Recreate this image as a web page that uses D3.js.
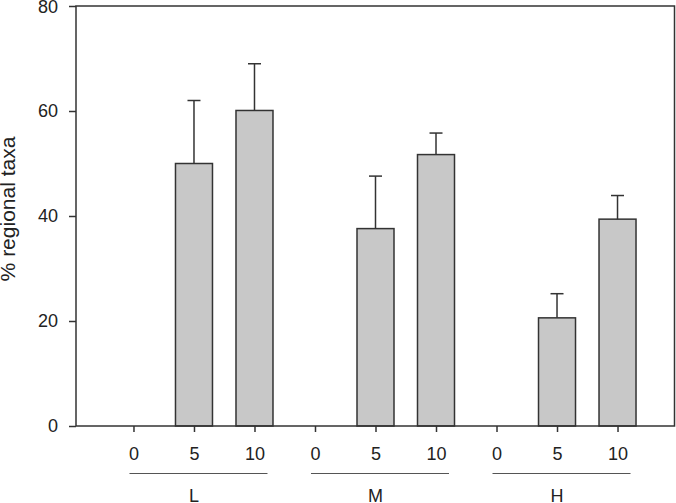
<!DOCTYPE html>
<html><head><meta charset="utf-8">
<script src="https://cdn.jsdelivr.net/npm/d3@7"></script>
<style>body{margin:0;background:#fff}svg{display:block}text{font-family:"Liberation Sans",Arial,sans-serif;fill:#222}</style>
</head><body>
<script>
const groups = ["L", "M", "H"];
const doses = ["0", "5", "10"];
const values = [0, 50.0, 60.1, 0, 37.6, 51.7, 0, 20.6, 39.4];
const errors = [0, 12.0, 8.9, 0, 10.0, 4.1, 0, 4.6, 4.5];
const yTicks = [0, 20, 40, 60, 80];
const yTitle = "% regional taxa";

const W = 676, H = 503;
const m = {left: 76, right: 1, top: 6, bottom: 77};
const svg = d3.select("body").append("svg").attr("width", W).attr("height", H);

const cats = [];
groups.forEach((g, gi) => doses.forEach((d, di) => cats.push({id: gi * 3 + di, group: g, dose: d, v: values[gi * 3 + di], e: errors[gi * 3 + di]})));

const x = d3.scalePoint().domain(cats.map(c => c.id)).range([m.left, W - m.right]).padding(0.95);
const y = d3.scaleLinear().domain([0, 80]).range([H - m.bottom, m.top]);
const bw = 37;
const stroke = "#333";

// bars
svg.append("g").selectAll("rect").data(cats.filter(c => c.v > 0)).join("rect")
  .attr("x", c => x(c.id) - bw / 2).attr("y", c => y(c.v))
  .attr("width", bw).attr("height", c => y(0) - y(c.v))
  .attr("fill", "#c8c8c8").attr("stroke", stroke).attr("stroke-width", 1.5);

// error bars
const eg = svg.append("g").attr("stroke", stroke).attr("stroke-width", 1.5);
cats.filter(c => c.v > 0).forEach(c => {
  eg.append("line").attr("x1", x(c.id)).attr("x2", x(c.id)).attr("y1", y(c.v)).attr("y2", y(c.v + c.e));
  eg.append("line").attr("x1", x(c.id) - 6.5).attr("x2", x(c.id) + 6.5).attr("y1", y(c.v + c.e)).attr("y2", y(c.v + c.e));
});

// frame
svg.append("rect").attr("x", m.left).attr("y", m.top).attr("width", W - m.right - m.left - 0.5).attr("height", y(0) - m.top)
  .attr("fill", "none").attr("stroke", stroke).attr("stroke-width", 1.5);

// y axis
const ya = svg.append("g").attr("transform", `translate(${m.left},0)`)
  .call(d3.axisLeft(y).tickValues(yTicks).tickSize(7).tickPadding(11));
ya.select(".domain").remove();
ya.selectAll("line").attr("stroke", stroke).attr("stroke-width", 1.5);
ya.selectAll("text").style("font-size", "18px").attr("fill", "#222");
ya.selectAll("text").filter(d => d === 80).attr("dy", "0.36em");

// x axis
const xa = svg.append("g").attr("transform", `translate(0,${y(0)})`)
  .call(d3.axisBottom(x).tickFormat(i => cats[i].dose).tickSize(6).tickPadding(15));
xa.select(".domain").remove();
xa.selectAll("line").attr("stroke", stroke).attr("stroke-width", 1.5);
xa.selectAll("text").style("font-size", "18px").attr("fill", "#222");

// group lines and labels
groups.forEach((g, gi) => {
  const first = gi * 3, last = gi * 3 + 2;
  svg.append("line").attr("x1", x(first) - 4).attr("x2", x(last) + 13)
    .attr("y1", 473.5).attr("y2", 473.5).attr("stroke", "#555").attr("stroke-width", 1);
  svg.append("text").attr("x", x(gi * 3 + 1)).attr("y", 502).attr("text-anchor", "middle")
    .style("font-size", "18px").text(g);
});

// y title
svg.append("text").attr("transform", `translate(15,209) rotate(-90)`)
  .attr("text-anchor", "middle").style("font-size", "21px").text(yTitle);
</script>
</body></html>
